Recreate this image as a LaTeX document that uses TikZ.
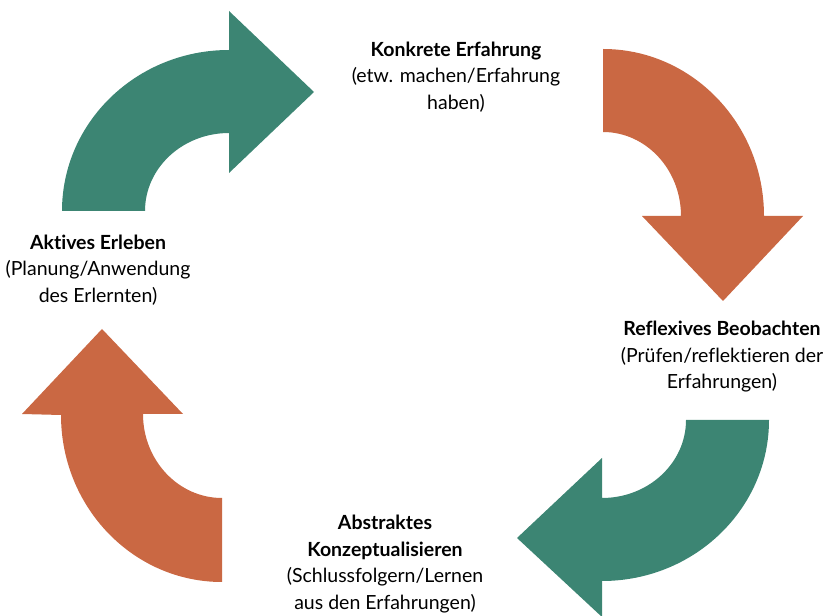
\documentclass[tikz,border=0pt]{standalone}
\usepackage{fontspec}
\setmainfont[Ligatures={NoCommon}]{Lato}
\definecolor{gruen}{HTML}{3C8573}
\definecolor{orange}{HTML}{CA6843}
\begin{document}
\begin{tikzpicture}[x=1pt,y=1pt,
	phase/.style={align=center,font=\fontsize{19.5}{26.5}\selectfont}]
	\useasboundingbox (0,0) rectangle (825,616);
	% Pfeile
	\fill [gruen] (62,405) arc [start angle=180, end angle=90, x radius=167pt, y radius=161pt]
		-- (229,605) -- (314,524) -- (229,443) -- (229,483)
		arc [start angle=90, end angle=180, x radius=84pt, y radius=78pt] -- cycle;
	\fill [orange] (603,567) arc [start angle=90, end angle=0, x radius=161pt, y radius=167pt]
		-- (803,400) -- (723,315) -- (642,400) -- (681,400)
		arc [start angle=0, end angle=90, x radius=78pt, y radius=84pt] -- cycle;
	\fill [gruen] (769,196) arc [start angle=0, end angle=-90, x radius=167pt, y radius=161pt]
		-- (602,-1) -- (517,78) -- (602,158) -- (602,118)
		arc [start angle=-90, end angle=0, x radius=84pt, y radius=78pt] -- cycle;
	\fill [orange] (222,34) arc [start angle=-90, end angle=-180, x radius=161pt, y radius=167pt]
		-- (22,202) -- (102,287) -- (183,202) -- (143,202)
		arc [start angle=180, end angle=270, x radius=79pt, y radius=84pt] -- cycle;
	% Phasen
	\node [phase] (konkret) at (456,539) {\textbf{Konkrete Erfahrung}\\(etw. machen/Erfahrung\\haben)};
	\node [phase] (reflexiv) at (722,259) {\textbf{Reflexives Beobachten}\\(Prüfen/reflektieren der\\Erfahrungen)};
	\node [phase] (abstrakt) at (385,52) {\textbf{Abstraktes}\\\textbf{Konzeptualisieren}\\(Schlussfolgern/Lernen\\aus den Erfahrungen)};
	\node [phase] (aktiv) at (98,346) {\textbf{Aktives Erleben}\\(Planung/Anwendung\\des Erlernten)};
\end{tikzpicture}
\end{document}
